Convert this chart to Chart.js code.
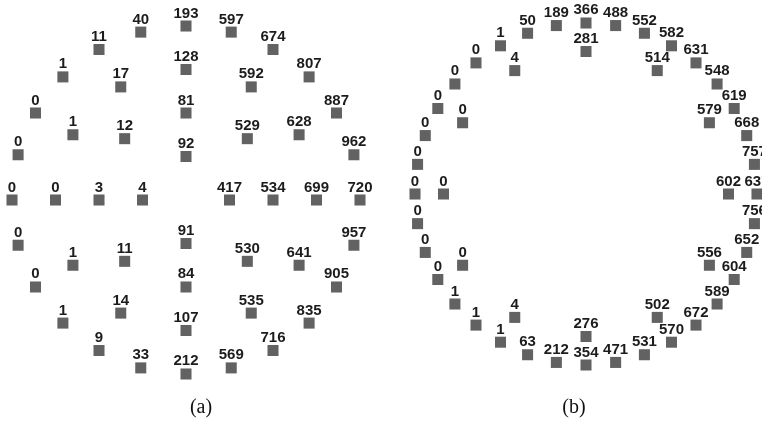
<!DOCTYPE html>
<html>
<head>
<meta charset="utf-8">
<script src="https://cdn.jsdelivr.net/npm/chart.js@4.4.1/dist/chart.umd.min.js"></script>
<style>
  html, body { margin: 0; padding: 0; background: #fff; width: 762px; height: 421px; overflow: hidden; }
  .panel { position: absolute; top: 0; }
  #panelA { left: 0; width: 372px; height: 400px; }
  #panelB { left: 386px; width: 376px; height: 388px; overflow: hidden; }
  #panelB .inner { width: 400px; height: 388px; }
  .caption { position: absolute; top: 396px; font: 20px "Liberation Serif", "Times New Roman", serif; line-height: 1; transform: translateX(-50%); color: #111; }
</style>
</head>
<body>
<div class="panel" id="panelA"><canvas id="chartA"></canvas></div>
<div class="panel" id="panelB"><div class="inner"><canvas id="chartB"></canvas></div></div>
<div class="caption" style="left:201px">(a)</div>
<div class="caption" style="left:574px">(b)</div>
<script>
// panel (a): four rings, positions in ring units
const aX = [4, 3.86, 3.46, 2.83, 2, 1.04, 0, -1.04, -2, -2.83, -3.46, -3.86,
  -4, -3.86, -3.46, -2.83, -2, -1.04, 0, 1.04, 2, 2.83, 3.46, 3.86,
  3, 2.6, 1.5, 0, -1.5, -2.6, -3, -2.6, -1.5, 0, 1.5, 2.6,
  2, 1.41, 0, -1.41, -2, -1.41, 0, 1.41,
  1, 0, -1, 0];
const aY = [0, 1.04, 2, 2.83, 3.46, 3.86, 4, 3.86, 3.46, 2.83, 2, 1.04,
  0, -1.04, -2, -2.83, -3.46, -3.86, -4, -3.86, -3.46, -2.83, -2, -1.04,
  0, 1.5, 2.6, 3, 2.6, 1.5, 0, -1.5, -2.6, -3, -2.6, -1.5,
  0, 1.41, 2, 1.41, 0, -1.41, -2, -1.41,
  0, 1, 0, -1];
const aLabels = [720, 962, 887, 807, 674, 597, 193, 40, 11, 1, 0, 0,
  0, 0, 0, 1, 9, 33, 212, 569, 716, 835, 905, 957,
  699, 628, 592, 128, 17, 1, 0, 1, 14, 107, 535, 641,
  534, 529, 81, 12, 3, 11, 84, 530,
  417, 92, 4, 91];

// panel (b): outer ring and inner ring
const bX = [6, 5.91, 5.64, 5.2, 4.6, 3.86, 3, 2.05, 1.04, 0, -1.04, -2.05,
  -3, -3.86, -4.6, -5.2, -5.64, -5.91, -6, -5.91, -5.64, -5.2, -4.6, -3.86,
  -3, -2.05, -1.04, 0, 1.04, 2.05, 3, 3.86, 4.6, 5.2, 5.64, 5.91,
  5, 4.33, 2.5, 0, -2.5, -4.33, -5, -4.33, -2.5, 0, 2.5, 4.33];
const bY = [0, 1.04, 2.05, 3, 3.86, 4.6, 5.2, 5.64, 5.91, 6, 5.91, 5.64,
  5.2, 4.6, 3.86, 3, 2.05, 1.04, 0, -1.04, -2.05, -3, -3.86, -4.6,
  -5.2, -5.64, -5.91, -6, -5.91, -5.64, -5.2, -4.6, -3.86, -3, -2.05, -1.04,
  0, 2.5, 4.33, 5, 4.33, 2.5, 0, -2.5, -4.33, -5, -4.33, -2.5];
const bLabels = [637, 757, 668, 619, 548, 631, 582, 552, 488, 366, 189, 50,
  1, 0, 0, 0, 0, 0, 0, 0, 0, 0, 1, 1,
  1, 63, 212, 354, 471, 531, 570, 672, 589, 604, 652, 756,
  602, 579, 514, 281, 4, 0, 0, 0, 4, 276, 502, 556];

const pointLabels = {
  id: 'pointLabels',
  afterDatasetsDraw(chart) {
    const ctx = chart.ctx;
    const labels = chart.data.datasets[0].labels;
    ctx.save();
    ctx.font = 'bold 15px "Liberation Sans", Arial, sans-serif';
    ctx.fillStyle = '#1c1c1c';
    ctx.textAlign = 'center';
    ctx.textBaseline = 'alphabetic';
    chart.getDatasetMeta(0).data.forEach((pt, i) => {
      ctx.fillText(String(labels[i]), pt.x, pt.y - 8.5);
    });
    ctx.restore();
  }
};

function makeChart(id, xs, ys, labels, xr, yr) {
  new Chart(document.getElementById(id), {
    type: 'scatter',
    data: {
      datasets: [{
        data: xs.map((x, i) => ({ x: x, y: ys[i] })),
        labels: labels,
        pointStyle: 'rect',
        pointRadius: 7.8,
        pointHoverRadius: 7.8,
        pointBorderWidth: 0,
        backgroundColor: '#626262',
        borderColor: '#626262'
      }]
    },
    options: {
      responsive: true,
      maintainAspectRatio: false,
      animation: false,
      layout: { padding: 0, autoPadding: false },
      plugins: { legend: { display: false }, tooltip: { enabled: false } },
      scales: {
        x: { type: 'linear', display: false, min: -xr, max: xr },
        y: { type: 'linear', display: false, min: -yr, max: yr }
      }
    },
    plugins: [pointLabels]
  });
}

makeChart('chartA', aX, aY, aLabels, 4.276, 4.598);
makeChart('chartB', bX, bY, bLabels, 7.018, 6.807);
</script>
</body>
</html>
